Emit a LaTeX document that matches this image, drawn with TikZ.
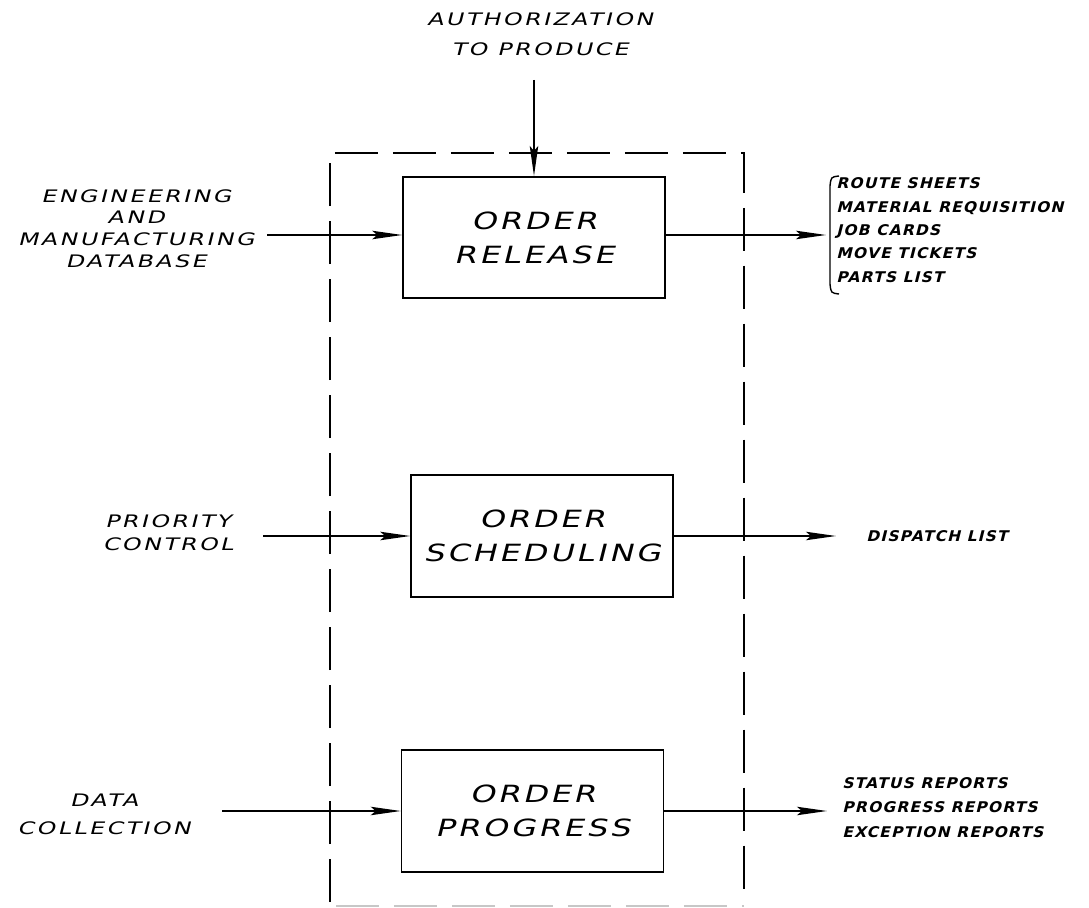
\documentclass[tikz,border=0pt]{standalone}
\usepackage{fontspec}
\usetikzlibrary{arrows.meta}
% slanted, extended plotter-style lettering; a heavier cut for the output lists
\newfontfamily\plotfont{DejaVu Sans}[FakeSlant=0.25,FakeStretch=1.35,LetterSpace=12]
\newfontfamily\plotsmall{DejaVu Sans}[FakeSlant=0.25,FakeStretch=1.38,LetterSpace=14]
\newfontfamily\plotbold{DejaVu Sans Bold}[FakeSlant=0.25,FakeStretch=1.05,LetterSpace=8]
\tikzset{
  proc/.style={draw, line width=0.9pt, minimum width=5.24cm, minimum height=2.43cm,
    inner sep=0pt, align=center, font=\plotfont\fontsize{13.5}{19.3}\selectfont},
  inlabel/.style={align=center, inner sep=0pt, font=\plotsmall\fontsize{9.8}{12.3}\selectfont},
  outlabel/.style={align=left, anchor=west, inner sep=0pt, font=\plotbold\fontsize{8.4}{13.3}\selectfont},
  flow/.style={line width=0.8pt, -{Stealth[length=0.6cm,width=0.17cm,inset=0.1cm]}},
  frame/.style={line width=1pt, dash pattern=on 0.86cm off 0.3cm},
}
\begin{document}
\begin{tikzpicture}[x=0.02cm,y=-0.02cm]
\useasboundingbox (0,0) rectangle (1089,908);

% system boundary
\draw[frame] (330,902) -- (330,153) -- (744,153) -- (744,902);
\draw[frame, black!22, line width=0.7pt] (336,906) -- (744,906);

% the three functions
\node[proc] (rel)  at (534,237.5) {ORDER\\RELEASE};
\node[proc] (sch)  at (542,536)   {ORDER\\SCHEDULING};
\node[proc] (prog) at (532.5,811) {ORDER\\PROGRESS};

% order release
\node[inlabel, font=\plotsmall\fontsize{9.8}{17}\selectfont] (auth) at (540,34) {AUTHORIZATION\\TO PRODUCE};
\coordinate (authin) at (534,80);
\draw[flow] (authin) -- (rel.north);

\node[inlabel] (eng) at (136,228.5) {ENGINEERING\\AND\\MANUFACTURING\\DATABASE};
\coordinate (engin) at (267,235);
\draw[flow] (engin) -- (engin -| rel.west);

\coordinate (relout) at (826,235);
\draw[flow] (rel.east |- relout) -- (relout);
\draw[line width=0.8pt] (839,176) .. controls (831,177) .. (830,186) -- (830,284)
  .. controls (831,293) .. (839,294);
\node[outlabel] (rellist) at (836,230)
  {ROUTE SHEETS\\MATERIAL REQUISITION\\JOB CARDS\\MOVE TICKETS\\PARTS LIST};

% order scheduling
\node[inlabel, font=\plotsmall\fontsize{9.8}{13}\selectfont] (prio) at (168,533) {PRIORITY\\CONTROL};
\coordinate (prioin) at (263,536);
\draw[flow] (prioin) -- (sch.west);
\coordinate (schout) at (836,536);
\draw[flow] (sch.east) -- (schout);
\node[outlabel] (disp) at (866,536) {DISPATCH LIST};

% order progress
\node[inlabel, font=\plotsmall\fontsize{9.8}{15.9}\selectfont] (data) at (104,814) {DATA\\COLLECTION};
\coordinate (datain) at (222,811);
\draw[flow] (datain) -- (prog.west);
\coordinate (progout) at (827,811);
\draw[flow] (prog.east) -- (progout);
\node[outlabel, font=\plotbold\fontsize{8.4}{13.9}\selectfont] (reports) at (842,807.5)
  {STATUS REPORTS\\PROGRESS REPORTS\\EXCEPTION REPORTS};
\end{tikzpicture}
\end{document}
